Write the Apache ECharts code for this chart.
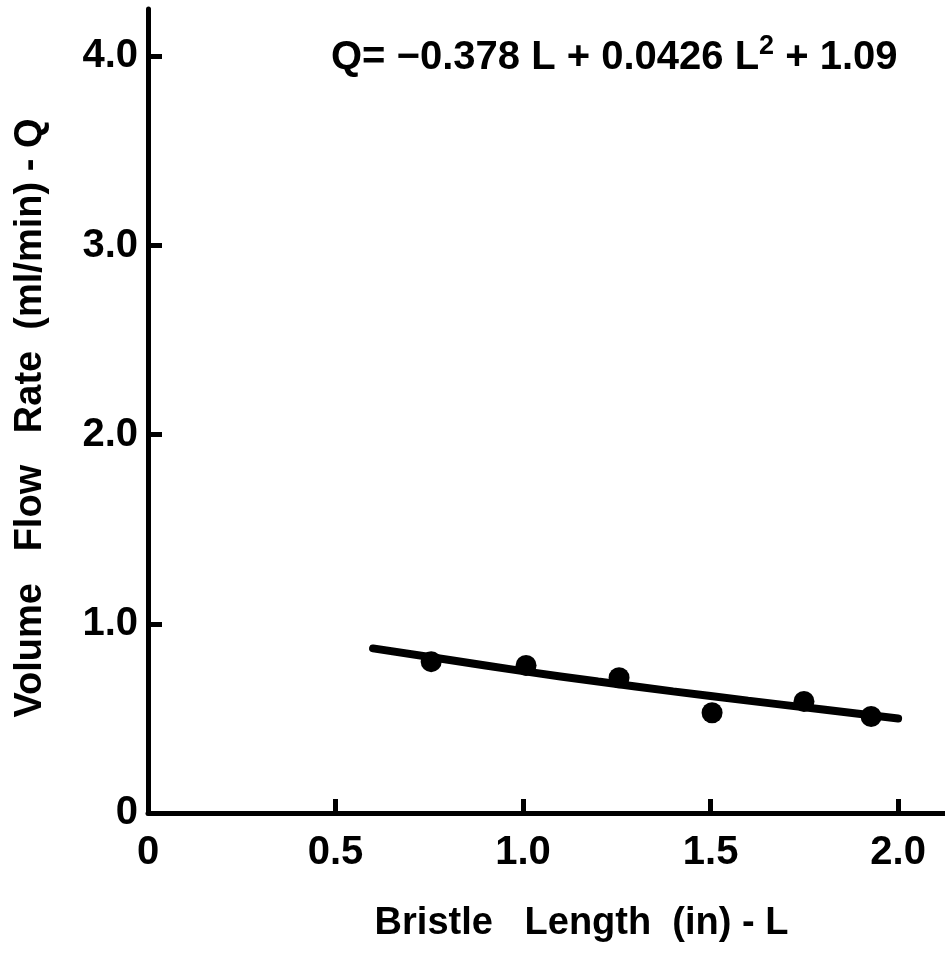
<!DOCTYPE html>
<html>
<head>
<meta charset="utf-8">
<script src="https://cdn.jsdelivr.net/npm/echarts@6/dist/echarts.min.js"></script>
<style>
  html, body { margin: 0; padding: 0; background: #fff; }
  #chart { width: 945px; height: 955px; }
</style>
</head>
<body>
<div id="chart"></div>
<script>
// Measured flow rate for each bristle length
const bristleLength = [0.755, 1.008, 1.256, 1.504, 1.749, 1.928];
const flowRate = [0.80, 0.78, 0.715, 0.53, 0.59, 0.51];

// Fitted quadratic curve, sampled along the bristle length range
const fitLength = [0.6, 0.8, 1.0, 1.2, 1.4, 1.6, 1.8, 2.0];
const fitFlow = [0.87, 0.81, 0.75, 0.695, 0.643, 0.594, 0.547, 0.50];

// Tick labels
const xTicks = [0, 0.5, 1.0, 1.5, 2.0];
const xTickLabels = ['0', '0.5', '1.0', '1.5', '2.0'];
const yTicks = [0, 1, 2, 3, 4];
const yTickLabels = ['0', '1.0', '2.0', '3.0', '4.0'];

const FONT = '"Liberation Sans", Arial, sans-serif';
const INK = '#000';

const chart = echarts.init(document.getElementById('chart'), null, { renderer: 'canvas' });

const labelFor = (ticks, labels) => (v) => {
  const i = ticks.findIndex(t => Math.abs(t - v) < 1e-6);
  return i >= 0 ? labels[i] : '';
};

chart.setOption({
  animation: false,
  backgroundColor: '#fff',
  grid: { left: 148, right: 0, top: 9, bottom: 142, containLabel: false, outerBoundsMode: 'none' },
  xAxis: {
    type: 'value',
    min: 0, max: 2.125,
    splitLine: { show: false },
    axisLine: { lineStyle: { color: INK, width: 5 } },
    axisTick: { inside: true, length: 14, lineStyle: { color: INK, width: 5 }, customValues: xTicks },
    axisLabel: {
      customValues: xTicks,
      formatter: labelFor(xTicks, xTickLabels),
      color: INK, fontFamily: FONT, fontWeight: 'bold', fontSize: 40, margin: 20
    },
    name: 'Bristle   Length  (in) - L',
    nameLocation: 'middle',
    nameGap: 92,
    nameTextStyle: { color: INK, fontFamily: FONT, fontWeight: 'bold', fontSize: 38, padding: [0, 0, 0, 70] }
  },
  yAxis: {
    type: 'value',
    min: 0, max: 4.25,
    splitLine: { show: false },
    axisLine: { lineStyle: { color: INK, width: 5, cap: 'round' } },
    axisTick: { inside: true, length: 14, lineStyle: { color: INK, width: 5 }, customValues: yTicks },
    axisLabel: {
      customValues: yTicks,
      formatter: labelFor(yTicks, yTickLabels),
      color: INK, fontFamily: FONT, fontWeight: 'bold', fontSize: 40, margin: 10
    },
    name: 'Volume   Flow   Rate  (ml/min) - Q',
    nameLocation: 'middle',
    nameGap: 98,
    nameRotate: 90,
    nameTextStyle: { color: INK, fontFamily: FONT, fontWeight: 'bold', fontSize: 38, padding: [0, 14, 0, 0] }
  },
  graphic: [{
    type: 'text',
    left: 331,
    top: 33,
    style: {
      text: 'Q= \u22120.378 L + 0.0426 L{sup|2} + 1.09',
      fill: INK,
      font: 'bold 40px ' + FONT,
      rich: {
        sup: { fontSize: 27, fontWeight: 'bold', fontFamily: FONT, fill: INK, verticalAlign: 'top', padding: [0, 0, 22, 0] }
      }
    }
  }],
  series: [
    {
      type: 'line',
      data: fitLength.map((x, i) => [x, fitFlow[i]]),
      smooth: true,
      showSymbol: false,
      lineStyle: { color: INK, width: 8, cap: 'round' },
      z: 2
    },
    {
      type: 'scatter',
      data: bristleLength.map((x, i) => [x, flowRate[i]]),
      symbol: 'circle',
      symbolSize: 21,
      itemStyle: { color: INK, opacity: 1 },
      z: 3
    }
  ]
});
</script>
</body>
</html>
